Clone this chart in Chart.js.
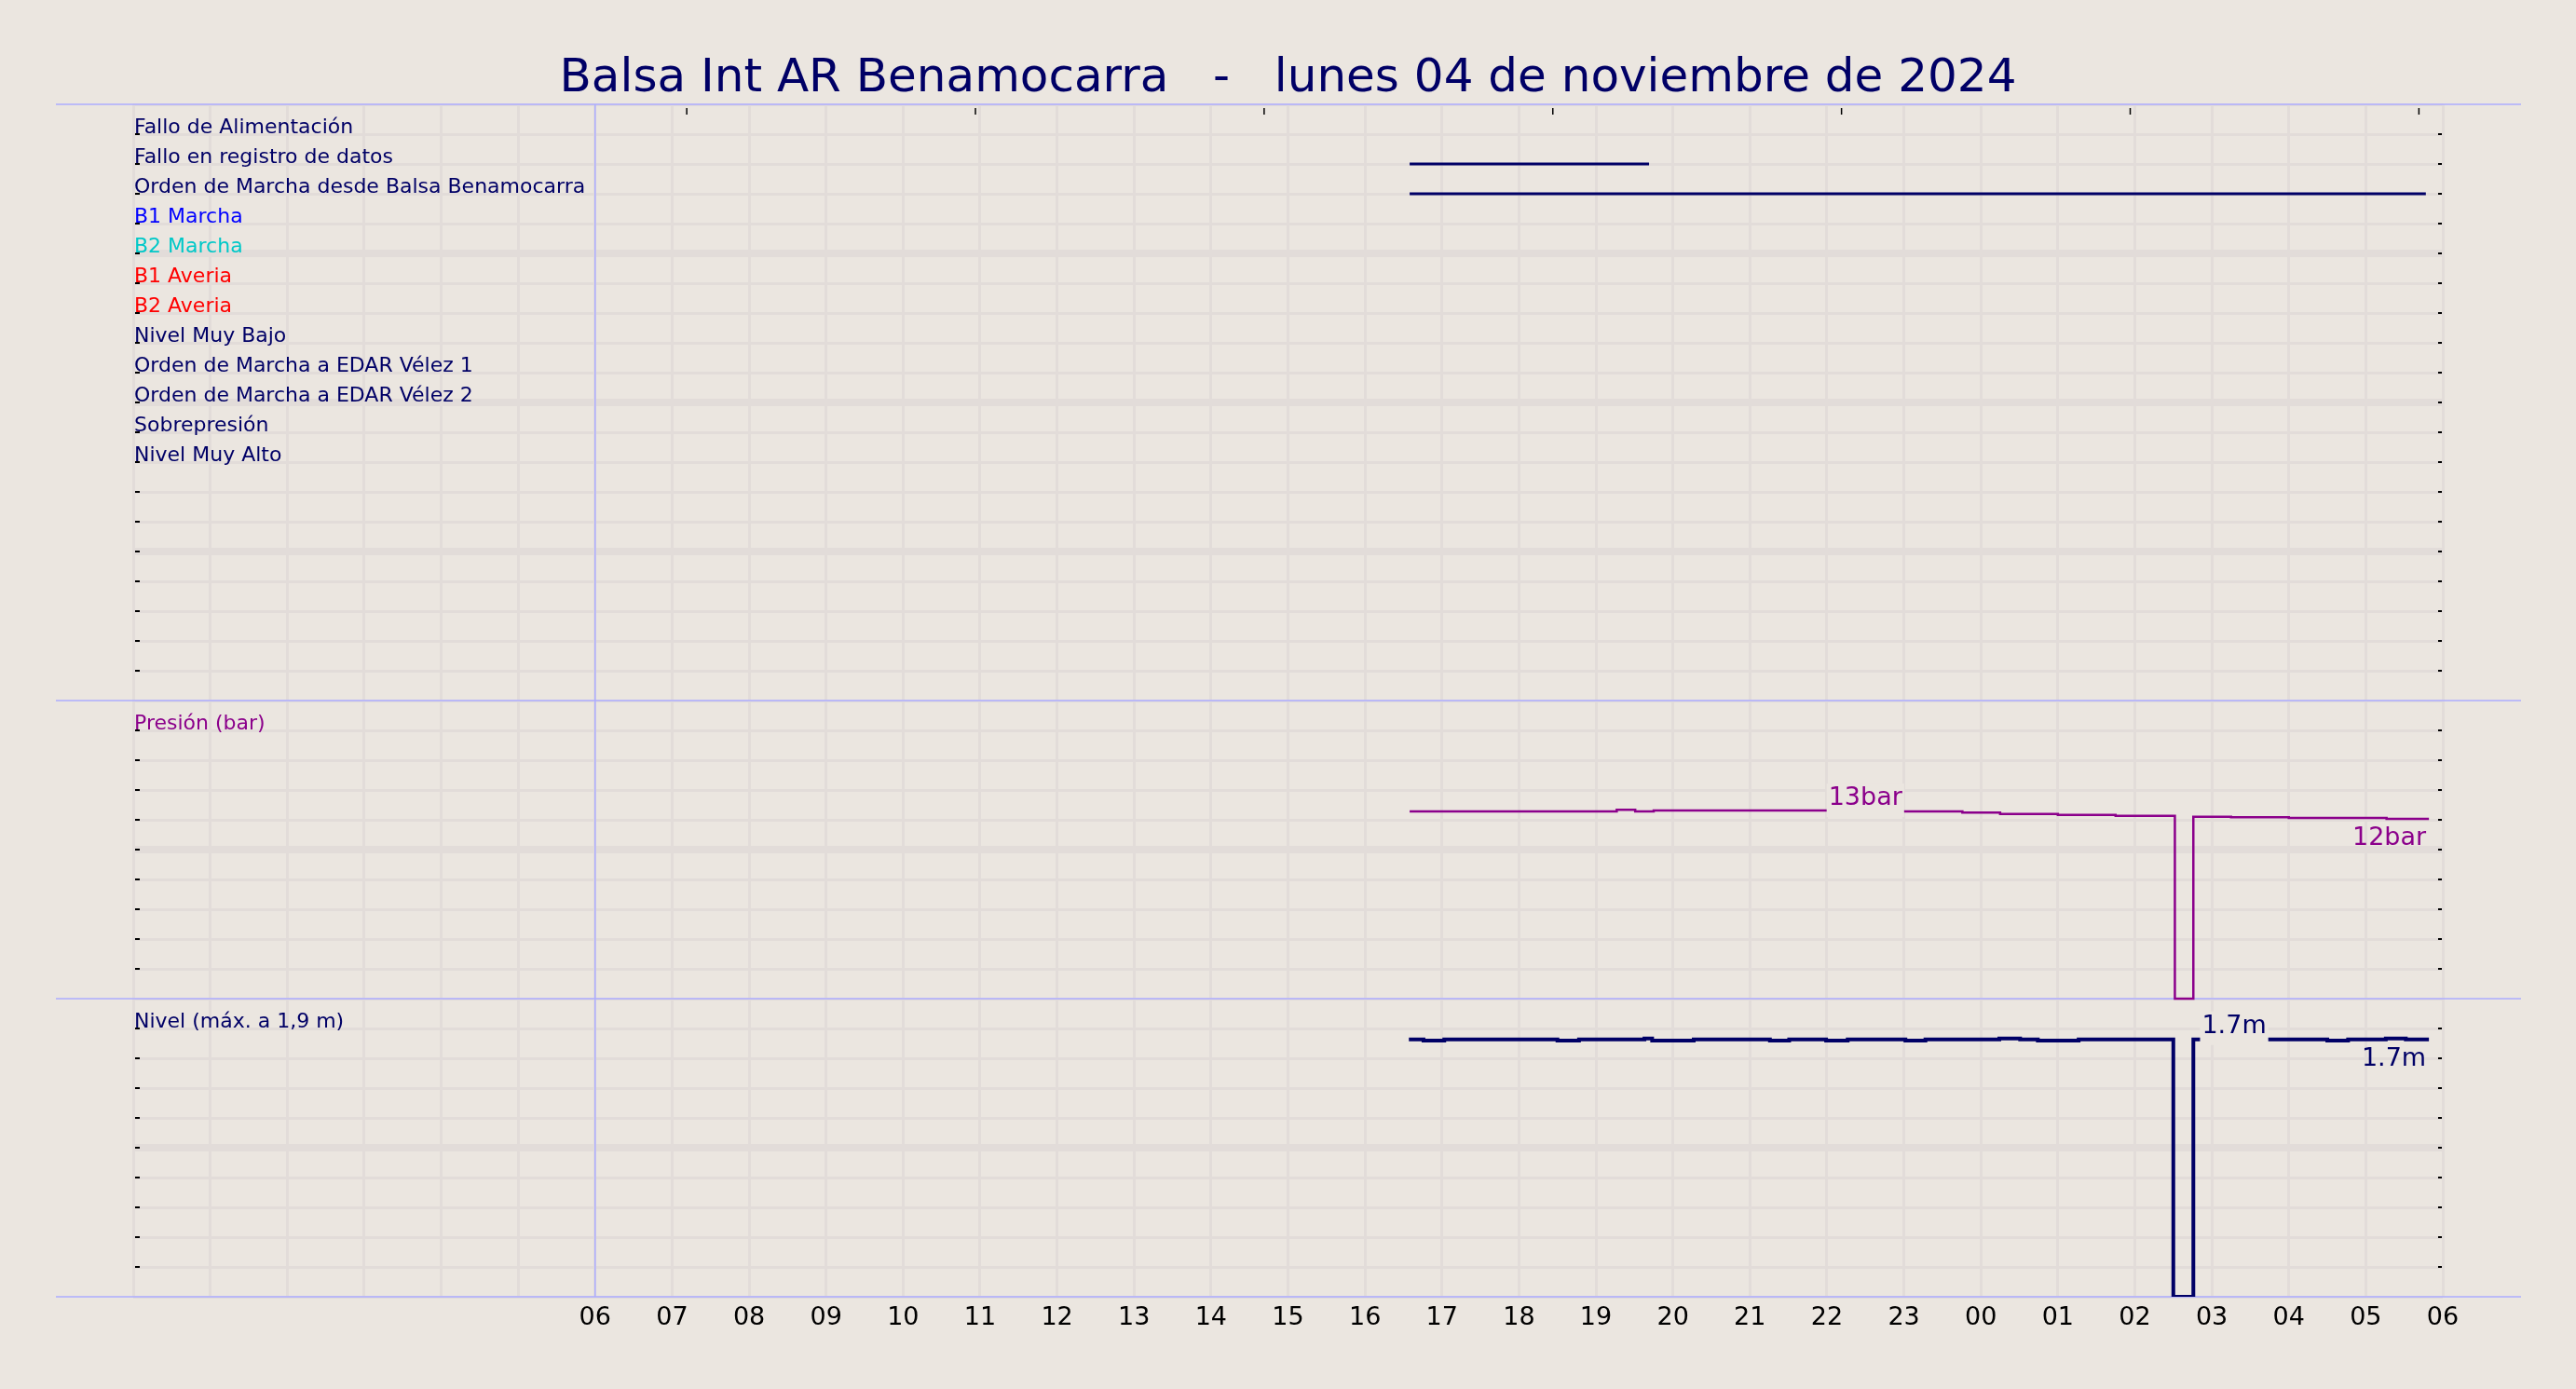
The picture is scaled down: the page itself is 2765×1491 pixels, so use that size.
<!DOCTYPE html>
<html>
<head>
<meta charset="utf-8">
<title>Balsa Int AR Benamocarra</title>
<script src="https://cdn.jsdelivr.net/npm/chart.js@4.4.1/dist/chart.umd.min.js"></script>
<style>
  html, body { margin: 0; padding: 0; background: #ebe6e0; }
  canvas { display: block; }
</style>
</head>
<body>
<canvas id="grafica" width="2765" height="1491"></canvas>
<script>
const titulo = 'Balsa Int AR Benamocarra   -   lunes 04 de noviembre de 2024';

// Señales digitales, una fila cada una (de arriba a abajo)
const senales = [
    'Fallo de Alimentación',
    'Fallo en registro de datos',
    'Orden de Marcha desde Balsa Benamocarra',
    'B1 Marcha',
    'B2 Marcha',
    'B1 Averia',
    'B2 Averia',
    'Nivel Muy Bajo',
    'Orden de Marcha a EDAR Vélez 1',
    'Orden de Marcha a EDAR Vélez 2',
    'Sobrepresión',
    'Nivel Muy Alto'
];
const coloresSenal = ['#000066', '#000066', '#000066', '#0000ff', '#00c8c8', '#ff0000',
    '#ff0000', '#000066', '#000066', '#000066', '#000066', '#000066'];

// Tramos activos [inicio, fin] en horas desde las 00:00 del día 04
const tramosSenal = [
    [],
    [[16.58, 19.69]],
    [[16.58, 29.78]],
    [], [], [], [], [], [], [], [], []
];

// Presión (bar), escalonada: cada valor se mantiene hasta la hora siguiente
const presionHoras = [16.58, 19.27, 19.51, 19.75, 22.5, 23.76, 24.25, 25.0, 25.75, 26.52, 26.76, 27.25, 28.0, 29.27, 29.82];
const presionBar   = [12.56, 12.67, 12.56, 12.62, 12.56, 12.48, 12.39, 12.33, 12.27, 0, 12.21, 12.17, 12.13, 12.06, 12.06];

// Nivel (m), escalonado
const nivelHoras  = [16.57, 16.76, 17.03, 18.50, 18.78, 19.63, 19.73, 20.27, 21.26, 21.51, 21.99, 22.27, 23.02,
    23.28, 24.24, 24.51, 24.74, 25.27, 26.50, 26.76, 28.50, 28.77, 29.26, 29.52, 29.82];
const nivelMetros = [1.727, 1.719, 1.727, 1.719, 1.727, 1.733, 1.719, 1.727, 1.719, 1.727, 1.719, 1.727, 1.719,
    1.727, 1.733, 1.727, 1.719, 1.727, 0, 1.727, 1.719, 1.727, 1.733, 1.727, 1.727];

// Marcas del borde superior (horas)
const marcasTope = [7.19, 10.94, 14.69, 18.44, 22.19, 25.94, 29.69];

// Eje horizontal: 30 h, rotuladas desde las 06
const HORA_FIN = 30;
const HORA_PRIMER_ROTULO = 6;

// Filas de cada panel
const FILAS_DIG = 20;
const FILAS_PRES = 10;
const FILAS_NIV = 10;
const FILAS_TOTAL = FILAS_DIG + FILAS_PRES + FILAS_NIV;
const PRES_MAX = 20;
const NIV_MAX = 2;

// Posición de las etiquetas de máximo (horas)
const etiquetaPresionEn = 22.5;
const etiquetaNivelEn = 27.29;

const fondo = '#ebe6e0';
const rejilla = '#e2dcd9';
const azulMarco = '#adadff';
const marino = '#000066';
const morado = '#8b008b';
const limites = [0, FILAS_DIG, FILAS_DIG + FILAS_PRES, FILAS_TOTAL];

Chart.defaults.font.family = '"DejaVu Sans"';

// valor vigente a la hora t (escalonado)
function valorEn(horas, valores, t) {
    let v = valores[0];
    for (let i = 0; i < horas.length; i++) {
        if (horas[i] <= t) v = valores[i];
    }
    return v;
}

function linea(ctx, x1, y1, x2, y2) {
    ctx.beginPath();
    ctx.moveTo(x1, y1);
    ctx.lineTo(x2, y2);
    ctx.stroke();
}

// Etiqueta sobre la línea, con caja del color de fondo
function etiquetaArriba(ctx, texto, px, py, color) {
    ctx.font = '27px "DejaVu Sans"';
    const w = ctx.measureText(texto).width;
    ctx.fillStyle = fondo;
    ctx.fillRect(px - w / 2 - 2, py - 30, w + 4, 36);
    ctx.fillStyle = color;
    ctx.textAlign = 'center';
    ctx.fillText(texto, px, py - 7);
}

function etiquetaFinal(ctx, texto, px, py, color) {
    ctx.font = '27px "DejaVu Sans"';
    ctx.fillStyle = color;
    ctx.textAlign = 'right';
    ctx.fillText(texto, px - 3, py + 28);
}

const decoracion = {
    id: 'decoracion',
    beforeDraw(chart) {
        const ctx = chart.ctx;
        ctx.save();
        ctx.fillStyle = fondo;
        ctx.fillRect(0, 0, chart.width, chart.height);
        ctx.fillStyle = marino;
        ctx.font = '50px "DejaVu Sans"';
        ctx.textAlign = 'center';
        ctx.textBaseline = 'alphabetic';
        ctx.fillText(titulo, chart.width / 2, chart.chartArea.top - 14);
        ctx.restore();
    },
    beforeDatasetsDraw(chart) {
        const { ctx, chartArea: a, scales } = chart;
        const x = scales.x;
        const filas = scales.filas;
        ctx.save();

        // marcas pequeñas a izquierda y derecha
        ctx.fillStyle = '#000';
        filas.ticks.forEach(t => {
            if (limites.includes(t.value)) return;
            const y = Math.round(filas.getPixelForValue(t.value));
            ctx.fillRect(a.left + 2, y - 1, 5, 2);
            ctx.fillRect(a.right - 5, y - 1, 4, 2);
        });

        // marcas del borde superior
        ctx.strokeStyle = '#000';
        ctx.lineWidth = 1.5;
        marcasTope.forEach(h => {
            const px = x.getPixelForValue(h);
            linea(ctx, px, a.top + 4, px, a.top + 11);
        });

        // separadores azules
        ctx.strokeStyle = azulMarco;
        ctx.lineWidth = 1.5;
        limites.forEach(v => {
            const y = filas.getPixelForValue(v);
            linea(ctx, a.left - 83, y, a.right + 84, y);
        });
        const x6 = x.getPixelForValue(HORA_PRIMER_ROTULO);
        linea(ctx, x6, a.top, x6, a.bottom);

        // rótulos de las filas
        ctx.font = '22px "DejaVu Sans"';
        ctx.textAlign = 'left';
        ctx.textBaseline = 'alphabetic';
        senales.forEach((s, i) => {
            ctx.fillStyle = coloresSenal[i];
            ctx.fillText(s, a.left + 1, filas.getPixelForValue(i + 1) - 1);
        });
        ctx.fillStyle = morado;
        ctx.fillText('Presión (bar)', a.left + 1, filas.getPixelForValue(FILAS_DIG + 1) - 1);
        ctx.fillStyle = marino;
        ctx.fillText('Nivel (máx. a 1,9 m)', a.left + 1, filas.getPixelForValue(FILAS_DIG + FILAS_PRES + 1) - 1);
        ctx.restore();
    },
    afterDatasetsDraw(chart) {
        const { ctx, scales } = chart;
        const x = scales.x;
        ctx.save();
        ctx.textBaseline = 'alphabetic';

        const pMax = Math.max(...presionBar);
        const pFin = presionBar[presionBar.length - 1];
        etiquetaArriba(ctx, Math.round(pMax) + 'bar', x.getPixelForValue(etiquetaPresionEn),
            scales.presion.getPixelForValue(valorEn(presionHoras, presionBar, etiquetaPresionEn)), morado);
        etiquetaFinal(ctx, Math.round(pFin) + 'bar', x.getPixelForValue(presionHoras[presionHoras.length - 1]),
            scales.presion.getPixelForValue(pFin), morado);

        const nMax = Math.max(...nivelMetros);
        const nFin = nivelMetros[nivelMetros.length - 1];
        etiquetaArriba(ctx, nMax.toFixed(1) + 'm', x.getPixelForValue(etiquetaNivelEn),
            scales.nivel.getPixelForValue(valorEn(nivelHoras, nivelMetros, etiquetaNivelEn)), marino);
        etiquetaFinal(ctx, nFin.toFixed(1) + 'm', x.getPixelForValue(nivelHoras[nivelHoras.length - 1]),
            scales.nivel.getPixelForValue(nFin), marino);
        ctx.restore();
    }
};

// Conjuntos de datos
const datasets = [];
tramosSenal.forEach((tramos, i) => {
    tramos.forEach(([ini, fin]) => {
        datasets.push({
            data: [{ x: ini, y: i + 1 }, { x: fin, y: i + 1 }],
            yAxisID: 'filas',
            borderColor: coloresSenal[i],
            borderWidth: 3,
            pointRadius: 0
        });
    });
});
datasets.push({
    data: presionHoras.map((h, i) => ({ x: h, y: presionBar[i] })),
    yAxisID: 'presion',
    stepped: 'before',
    borderColor: morado,
    borderWidth: 2.5,
    pointRadius: 0
});
datasets.push({
    data: nivelHoras.map((h, i) => ({ x: h, y: nivelMetros[i] })),
    yAxisID: 'nivel',
    stepped: 'before',
    borderColor: marino,
    borderWidth: 4,
    pointRadius: 0
});

new Chart(document.getElementById('grafica'), {
    type: 'line',
    data: { datasets: datasets },
    options: {
        responsive: false,
        animation: false,
        devicePixelRatio: 1,
        layout: { padding: { left: 143, right: 143, top: 112, bottom: 59 } },
        plugins: {
            legend: { display: false },
            tooltip: { enabled: false }
        },
        scales: {
            x: {
                type: 'linear',
                position: 'bottom',
                min: 0,
                max: HORA_FIN,
                ticks: {
                    stepSize: 1,
                    maxTicksLimit: 100,
                    autoSkip: false,
                    maxRotation: 0,
                    padding: 7,
                    color: '#000',
                    font: { size: 27 },
                    callback: v => v >= HORA_PRIMER_ROTULO ? String(v % 24).padStart(2, '0') : ''
                },
                grid: { color: rejilla, lineWidth: 3, drawTicks: false },
                border: { display: false },
                afterFit: s => { s.height = 40; }
            },
            filas: {
                type: 'linear',
                position: 'left',
                min: 0,
                max: FILAS_TOTAL,
                reverse: true,
                ticks: { display: false, stepSize: 1, maxTicksLimit: 100 },
                grid: {
                    color: rejilla,
                    drawTicks: false,
                    lineWidth: c => (c.tick && c.tick.value % 5 === 0 && !limites.includes(c.tick.value)) ? 8 : 3
                },
                border: { display: false },
                afterFit: s => { s.width = 0; }
            },
            // los paneles de presión y nivel ocupan su tramo de filas
            presion: {
                type: 'linear',
                display: false,
                min: -PRES_MAX * FILAS_NIV / FILAS_PRES,
                max: PRES_MAX * (FILAS_PRES + FILAS_DIG) / FILAS_PRES
            },
            nivel: {
                type: 'linear',
                display: false,
                min: 0,
                max: NIV_MAX * FILAS_TOTAL / FILAS_NIV
            }
        }
    },
    plugins: [decoracion]
});
</script>
</body>
</html>
